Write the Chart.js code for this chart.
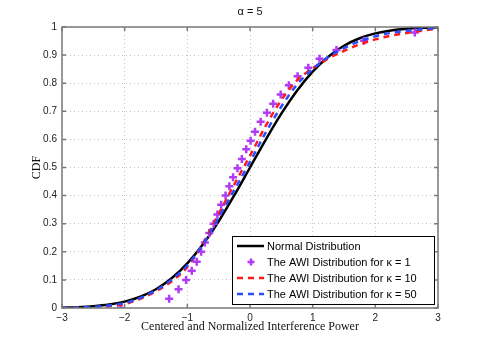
<!DOCTYPE html>
<html>
<head>
<meta charset="utf-8">
<script src="https://cdn.jsdelivr.net/npm/chart.js@4.4.0/dist/chart.umd.min.js"></script>
<style>
  html, body { margin: 0; padding: 0; background: #fff; }
</style>
</head>
<body>
<canvas id="cdf" width="485" height="346"></canvas>
<script>
// values
const xGrid = [-3, -2.75, -2.5, -2.25, -2, -1.75, -1.5, -1.25, -1, -0.75, -0.5, -0.25, 0,
  0.25, 0.5, 0.75, 1, 1.25, 1.5, 1.75, 2, 2.25, 2.5, 2.75, 3];
const normalCdf = [0.0013, 0.003, 0.0062, 0.0122, 0.0228, 0.0401, 0.0668, 0.1056, 0.1587, 0.2266,
  0.3085, 0.4013, 0.5, 0.5987, 0.6915, 0.7734, 0.8413, 0.8944, 0.9332, 0.9599, 0.9772, 0.9878,
  0.9938, 0.997, 0.9987];
const awiK10 = [0.0, 0.0005, 0.002, 0.006, 0.014, 0.033, 0.06, 0.095, 0.146, 0.23,
  0.335, 0.44, 0.542, 0.648, 0.74, 0.81, 0.853, 0.888, 0.915, 0.938, 0.956, 0.969,
  0.979, 0.987, 0.994];
const awiK50 = [0.0005, 0.0015, 0.004, 0.009, 0.018, 0.036, 0.063, 0.101, 0.152, 0.227,
  0.322, 0.42, 0.52, 0.624, 0.717, 0.795, 0.85, 0.893, 0.925, 0.949, 0.967, 0.979,
  0.987, 0.992, 0.996];
const awiK1X = [-2.06, -1.29, -1.14, -1.02, -0.93, -0.85, -0.78, -0.72, -0.65, -0.58, -0.52,
  -0.46, -0.39, -0.33, -0.27, -0.2, -0.13, -0.06, 0.01, 0.08, 0.17, 0.27, 0.37, 0.49, 0.62,
  0.76, 0.93, 1.11, 1.38, 1.82, 2.63];
const awiK1Y = [0.0, 0.033, 0.067, 0.1, 0.133, 0.165, 0.2, 0.233, 0.267, 0.3, 0.333,
  0.367, 0.4, 0.433, 0.465, 0.497, 0.53, 0.565, 0.595, 0.627, 0.663, 0.695, 0.727, 0.76, 0.793,
  0.825, 0.855, 0.887, 0.918, 0.951, 0.98];
const xTicks = [-3, -2, -1, 0, 1, 2, 3];
const yTicks = [0, 0.1, 0.2, 0.3, 0.4, 0.5, 0.6, 0.7, 0.8, 0.9, 1];
const seriesLabels = [
  "Normal Distribution",
  "The AWI Distribution for \u03BA = 1",
  "The AWI Distribution for \u03BA = 10",
  "The AWI Distribution for \u03BA = 50"
];

const toPts = (xs, ys) => xs.map((x, i) => ({ x: x, y: ys[i] }));
const minus = v => (v < 0 ? "\u2212" + Math.abs(v) : String(v));

// frame, inward ticks, titles and the legend box (matlab look)
const matlabBits = {
  id: "matlabBits",
  afterDraw(chart) {
    const { ctx, chartArea: a, scales } = chart;
    ctx.save();
    ctx.strokeStyle = "#7a7a7a";
    ctx.lineWidth = 1.5;
    ctx.beginPath();
    xTicks.forEach(t => {
      const px = scales.x.getPixelForValue(t);
      ctx.moveTo(px, a.bottom); ctx.lineTo(px, a.bottom - 4);
      ctx.moveTo(px, a.top); ctx.lineTo(px, a.top + 4);
    });
    yTicks.forEach(t => {
      const py = scales.y.getPixelForValue(t);
      ctx.moveTo(a.left, py); ctx.lineTo(a.left + 4, py);
      ctx.moveTo(a.right, py); ctx.lineTo(a.right - 4, py);
    });
    ctx.stroke();
    ctx.strokeRect(a.left, a.top, a.right - a.left, a.bottom - a.top);

    ctx.fillStyle = "#111";
    ctx.textAlign = "center";
    ctx.textBaseline = "middle";
    ctx.font = "11px 'Liberation Sans', Arial, sans-serif";
    ctx.fillText("\u03B1 = 5", (a.left + a.right) / 2, 12);
    ctx.font = "12px 'Liberation Serif', 'Times New Roman', serif";
    ctx.fillText("Centered and Normalized Interference Power", (a.left + a.right) / 2, 327);
    ctx.save();
    ctx.translate(37, (a.top + a.bottom) / 2);
    ctx.rotate(-Math.PI / 2);
    ctx.fillText("CDF", 0, 0);
    ctx.restore();

    // legend
    const bx = 232, by = 236, bw = 202, bh = 68;
    ctx.fillStyle = "#fff";
    ctx.fillRect(bx, by, bw, bh);
    ctx.strokeStyle = "#000";
    ctx.lineWidth = 1;
    ctx.strokeRect(bx + 0.5, by + 0.5, bw, bh);
    ctx.textAlign = "left";
    ctx.font = "11px 'Liberation Sans', Arial, sans-serif";
    const order = [0, 1, 2, 3];
    order.forEach((di, row) => {
      const ds = chart.data.datasets[di];
      const cy = by + 10 + row * 16;
      ctx.save();
      if (ds.showLine === false) {
        ctx.strokeStyle = ds.borderColor;
        ctx.lineWidth = 2.5;
        ctx.beginPath();
        ctx.moveTo(251 - 3.5, cy); ctx.lineTo(251 + 3.5, cy);
        ctx.moveTo(251, cy - 3.5); ctx.lineTo(251, cy + 3.5);
        ctx.stroke();
      } else {
        ctx.strokeStyle = ds.borderColor;
        ctx.lineWidth = ds.borderWidth;
        ctx.setLineDash(ds.borderDash || []);
        ctx.beginPath();
        ctx.moveTo(237, cy); ctx.lineTo(264, cy);
        ctx.stroke();
      }
      ctx.restore();
      ctx.fillStyle = "#000";
      ctx.fillText(seriesLabels[di], 267, cy + 0.5);
    });
    ctx.restore();
  }
};

new Chart(document.getElementById("cdf"), {
  type: "line",
  data: {
    datasets: [
      {
        label: seriesLabels[0],
        data: toPts(xGrid, normalCdf),
        borderColor: "#000000",
        borderWidth: 2.5,
        pointRadius: 0,
        cubicInterpolationMode: "monotone",
        order: 3
      },
      {
        label: seriesLabels[1],
        data: toPts(awiK1X, awiK1Y),
        showLine: false,
        borderColor: "#b03cf5",
        backgroundColor: "#b03cf5",
        pointStyle: "cross",
        pointRadius: 4,
        pointBorderWidth: 2.5,
        order: 2
      },
      {
        label: seriesLabels[2],
        data: toPts(xGrid, awiK10),
        borderColor: "#ff1a1a",
        borderWidth: 2.5,
        borderDash: [6, 5],
        pointRadius: 0,
        cubicInterpolationMode: "monotone",
        order: 1
      },
      {
        label: seriesLabels[3],
        data: toPts(xGrid, awiK50),
        borderColor: "#2a4dff",
        borderWidth: 2.5,
        borderDash: [6, 5],
        pointRadius: 0,
        cubicInterpolationMode: "monotone",
        order: 0
      }
    ]
  },
  options: {
    responsive: false,
    animation: false,
    layout: { padding: { left: 0, right: 47, top: 27, bottom: 0 } },
    plugins: { legend: { display: false }, tooltip: { enabled: false }, title: { display: false } },
    scales: {
      x: {
        type: "linear",
        min: -3,
        max: 3,
        afterFit: s => { s.height = 38; },
        afterBuildTicks: s => { s.ticks = xTicks.map(v => ({ value: v })); },
        grid: { color: "#c4c4c4", lineWidth: 1, drawTicks: false },
        border: { display: false, dash: [1, 3] },
        ticks: {
          padding: 4,
          color: "#222",
          font: { family: "'Liberation Sans', Arial, sans-serif", size: 10 },
          callback: v => minus(v)
        }
      },
      y: {
        type: "linear",
        min: 0,
        max: 1,
        afterFit: s => { s.width = 62; },
        afterBuildTicks: s => { s.ticks = yTicks.map(v => ({ value: v })); },
        grid: { color: "#c4c4c4", lineWidth: 1, drawTicks: false },
        border: { display: false, dash: [1, 3] },
        ticks: {
          padding: 5,
          color: "#222",
          font: { family: "'Liberation Sans', Arial, sans-serif", size: 10 },
          callback: v => String(v)
        }
      }
    }
  },
  plugins: [matlabBits]
});
</script>
</body>
</html>
